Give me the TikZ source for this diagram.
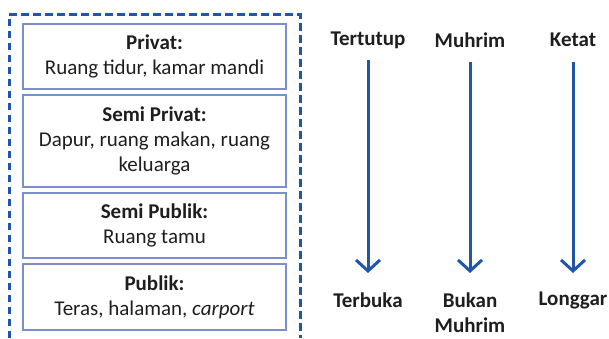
\documentclass[tikz,border=0pt]{standalone}
\usepackage{fontspec}
\setmainfont{Carlito}
\usetikzlibrary{arrows.meta}
\definecolor{dblue}{HTML}{1F56A8}
\definecolor{bbord}{HTML}{7A8FCB}
\definecolor{txt}{HTML}{1E1E1E}
\begin{document}
\begin{tikzpicture}[x=1pt,y=-1pt,
  zonebox/.style={draw=bbord,line width=1.6pt,minimum width=263pt,inner sep=0pt,
    align=center,text=txt,font=\fontsize{21}{25}\selectfont},
  lbl/.style={inner sep=0pt,align=center,text=txt,font=\fontsize{21}{25}\selectfont\bfseries},
  arr/.style={draw=dblue,line width=3pt,-{Straight Barb[length=11pt,width=24pt,line width=3pt]}}]
\useasboundingbox (0,0) rectangle (609,338);
\draw[dblue,line width=3pt,dash pattern=on 7.5pt off 4.5pt] (9,338) -- (9,14) -- (300,14) -- (300,338);
\node[zonebox,minimum height=65pt] (z1) at (154.5,56.5) {\textbf{Privat:}\\Ruang tidur, kamar mandi};
\node[zonebox,minimum height=92pt] (z2) at (154.5,141) {\textbf{Semi Privat:}\\Dapur, ruang makan, ruang\\keluarga};
\node[zonebox,minimum height=65pt] (z3) at (154.5,225.5) {\textbf{Semi Publik:}\\Ruang tamu};
\node[zonebox,minimum height=66pt] (z4) at (154.5,297) {\textbf{Publik:}\\Teras, halaman, \textit{carport}};
\node[lbl] (t1) at (368,40) {Tertutup};
\node[lbl] (t2) at (470,40) {Muhrim};
\node[lbl] (t3) at (573,40) {Ketat};
\node[lbl] (b1) at (368,300) {Terbuka};
\node[lbl] (b2) at (470,312.5) {Bukan\\Muhrim};
\node[lbl] (b3) at (573,300) {Longgar};
\draw[arr,shorten <=20pt,shorten >=27pt] (t1.center) -- (b1.center);
\draw[arr,shorten <=22pt,shorten >=39.5pt] (t2.center) -- (b2.center);
\draw[arr,shorten <=22pt,shorten >=27pt] (t3.center) -- (b3.center);
\end{tikzpicture}
\end{document}
